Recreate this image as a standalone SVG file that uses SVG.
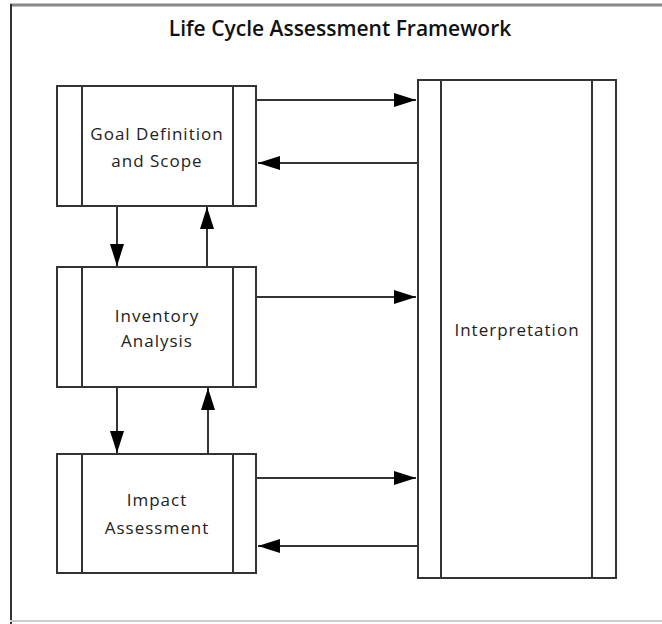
<svg xmlns="http://www.w3.org/2000/svg" width="662" height="624" viewBox="0 0 662 624">
<style>
.box{fill:#fff;stroke:#333;stroke-width:2}
.bar{stroke:#333;stroke-width:2}
.lbl{font-family:"Open Sans","Liberation Sans",sans-serif;font-size:17px;letter-spacing:1px;fill:#222;text-anchor:middle}
.title{font-family:"Open Sans","Liberation Sans",sans-serif;font-size:21px;font-weight:600;fill:#111;text-anchor:middle}
.con{stroke:#333;stroke-width:2;fill:none;marker-end:url(#ah)}
</style>
<defs>
<marker id="ah" markerWidth="22" markerHeight="14" refX="22" refY="7" orient="auto" markerUnits="userSpaceOnUse">
<path d="M0,0 L22,7 L0,14 Z" fill="#000"/>
</marker>
</defs>
<rect x="0" y="0" width="662" height="624" fill="#fff"/>
<g id="frame">
<line x1="10" y1="5" x2="662" y2="5" stroke="#888" stroke-width="3"/>
<line x1="11" y1="4" x2="11" y2="624" stroke="#333" stroke-width="2"/>
<line x1="10" y1="621" x2="662" y2="621" stroke="#ccc" stroke-width="2"/>
<text class="title" x="340" y="36">Life Cycle Assessment Framework</text>
</g>
<g id="goal">
<rect class="box" x="57" y="86" width="199" height="120"/>
<line class="bar" x1="82" y1="86" x2="82" y2="206"/>
<line class="bar" x1="233" y1="86" x2="233" y2="206"/>
<text class="lbl" x="157" y="140">Goal Definition</text>
<text class="lbl" x="157" y="167">and Scope</text>
</g>
<g id="inventory">
<rect class="box" x="57" y="267" width="199" height="120"/>
<line class="bar" x1="82" y1="267" x2="82" y2="387"/>
<line class="bar" x1="233" y1="267" x2="233" y2="387"/>
<text class="lbl" x="157" y="322">Inventory</text>
<text class="lbl" x="157" y="347">Analysis</text>
</g>
<g id="impact">
<rect class="box" x="57" y="454" width="199" height="119"/>
<line class="bar" x1="82" y1="454" x2="82" y2="573"/>
<line class="bar" x1="233" y1="454" x2="233" y2="573"/>
<text class="lbl" x="157" y="506">Impact</text>
<text class="lbl" x="157" y="534">Assessment</text>
</g>
<g id="interpretation">
<rect class="box" x="418" y="80" width="198" height="498"/>
<line class="bar" x1="441" y1="80" x2="441" y2="578"/>
<line class="bar" x1="592" y1="80" x2="592" y2="578"/>
<text class="lbl" x="517" y="336">Interpretation</text>
</g>
<g id="connectors">
<line class="con" x1="256" y1="100" x2="416" y2="100"/>
<line class="con" x1="418" y1="163" x2="258" y2="163"/>
<line class="con" x1="256" y1="297" x2="416" y2="297"/>
<line class="con" x1="256" y1="478" x2="416" y2="478"/>
<line class="con" x1="418" y1="546" x2="258" y2="546"/>
<line class="con" x1="117" y1="206" x2="117" y2="266"/>
<line class="con" x1="207" y1="267" x2="207" y2="207"/>
<line class="con" x1="117" y1="387" x2="117" y2="453"/>
<line class="con" x1="208" y1="454" x2="208" y2="388"/>
</g>
</svg>
